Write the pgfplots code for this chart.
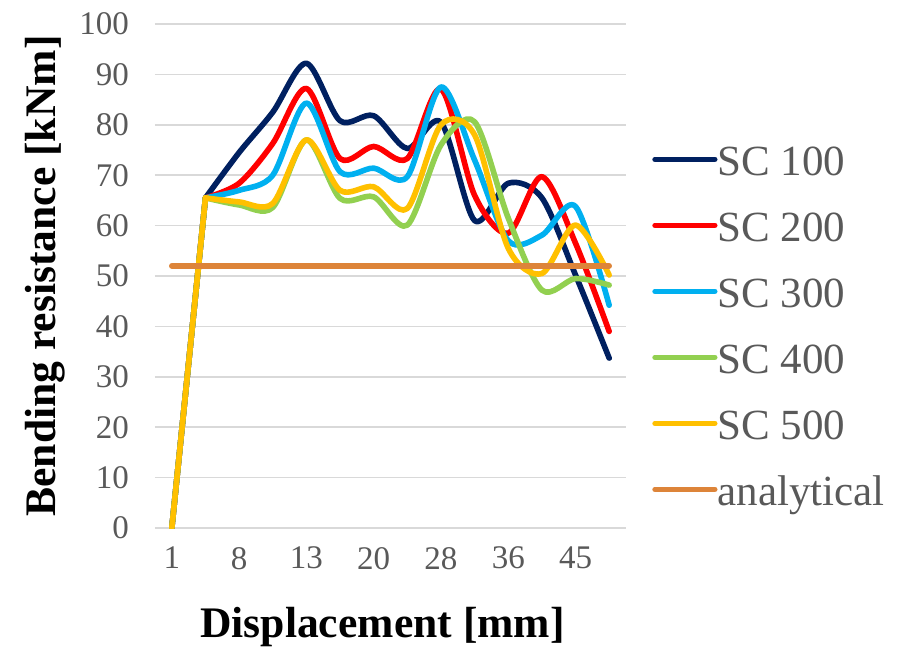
\documentclass[border=0pt]{standalone}
\usepackage{fontspec}
\setmainfont{Liberation Serif}
\usepackage{pgfplots}
\usepackage{pgfplotstable}
\pgfplotsset{compat=1.18}

\definecolor{sc1}{RGB}{0,32,96}
\definecolor{sc2}{RGB}{255,0,0}
\definecolor{sc3}{RGB}{0,176,240}
\definecolor{sc4}{RGB}{146,208,80}
\definecolor{sc5}{RGB}{255,192,0}
\definecolor{ana}{RGB}{221,132,57}
\definecolor{lbl}{RGB}{89,89,89}

% x = category index (labels 1, 8, 13, ... on every second one)
\pgfplotstableread{
x  a     b     c     d     e     f
0  0     0     0     0     0     52
1  65.5  65.5  65.5  65.5  65.5  52
2  74.5  68.4  67.0  64.1  64.7  52
3  82.5  76.3  70.0  63.6  64.4  52
4  92.2  87.2  84.3  77.0  77.0  52
5  80.8  73.3  70.7  65.4  67.0  52
6  81.8  75.7  71.4  65.7  67.7  52
7  75.3  73.3  69.7  60.1  63.4  52
8  80.5  87.1  87.5  76.0  80.0  52
9  61.0  66.0  73.0  80.6  78.0  52
10 68.4  58.5  57.0  61.5  55.5  52
11 65.5  69.7  58.1  47.2  50.5  52
12 50.2  56.5  63.8  49.5  60.1  52
13 33.7  39.0  44.2  48.2  50.2  52
}\data

% strut so that every legend text is centred alike
\newcommand{\lstrut}{\rule{0pt}{17.4pt}}

% first (steep) segment straight, the rest smoothed
\newcommand{\series}[3]{%
  \addplot[#1, sharp plot, forget plot] table[x=x, y=#2, skip coords between index={2}{14}] {\data};
  \addplot[#1] table[x=x, y=#2, skip coords between index={0}{1}] {\data};
  \addlegendentry{\lstrut#3}}

\begin{document}
\begin{tikzpicture}
\begin{axis}[
    scale only axis,
    width=235.5pt, height=252pt,
    xmin=-0.5, xmax=13.5,
    ymin=0, ymax=100,
    xtick={0,2,...,12},
    xticklabels={1,8,13,20,28,36,45},
    ytick={0,10,...,100},
    ymajorgrids,
    grid style={draw=black!15, line width=0.75pt},
    axis line style={draw=none},
    major tick length=0pt,
    /pgf/number format/assume math mode=true,
    tick label style={font=\fontsize{16.5}{18}\selectfont, text=lbl},
    xticklabel style={yshift=-6pt},
    yticklabel style={xshift=-9.5pt},
    xlabel={\textbf{Displacement [mm]}},
    ylabel={\textbf{Bending resistance [kNm]}},
    label style={font=\fontsize{21.8}{24}\selectfont},
    xlabel style={at={(axis description cs:0.483,-0.196)}, anchor=center},
    ylabel style={at={(axis description cs:-0.2335,0.5)}, anchor=center, rotate=0},
    every axis plot/.append style={line width=2.8pt, smooth, tension=0.5, line cap=round, line join=round},
    legend style={draw=none, fill=none, inner sep=0pt,
        at={(axis description cs:1.055,0.404)}, anchor=west,
        font=\fontsize{21.5}{24}\selectfont,
        nodes={inner sep=0pt, text=lbl, minimum height=33pt},
        /tikz/every even column/.append style={column sep=3pt}},
    legend cell align=left,
    legend image code/.code={%
        \draw[#1, line width=2.6pt, line cap=round] (0pt,0pt) -- (30pt,0pt);
        \path[draw=none, fill=none] (0pt,0pt) -- (0pt,6.3pt);},
]
\series{sc1}{a}{SC 100}
\series{sc2}{b}{SC 200}
\series{sc3}{c}{SC 300}
\series{sc4}{d}{SC 400}
\series{sc5}{e}{SC 500}
\addplot[ana] table[x=x, y=f] {\data};
\addlegendentry{\lstrut analytical}
\end{axis}
\pgfresetboundingbox
\path ([xshift=-77.5pt,yshift=-63pt]current axis.south west) rectangle ([xshift=142pt,yshift=12pt]current axis.north east);
\end{tikzpicture}
\end{document}
